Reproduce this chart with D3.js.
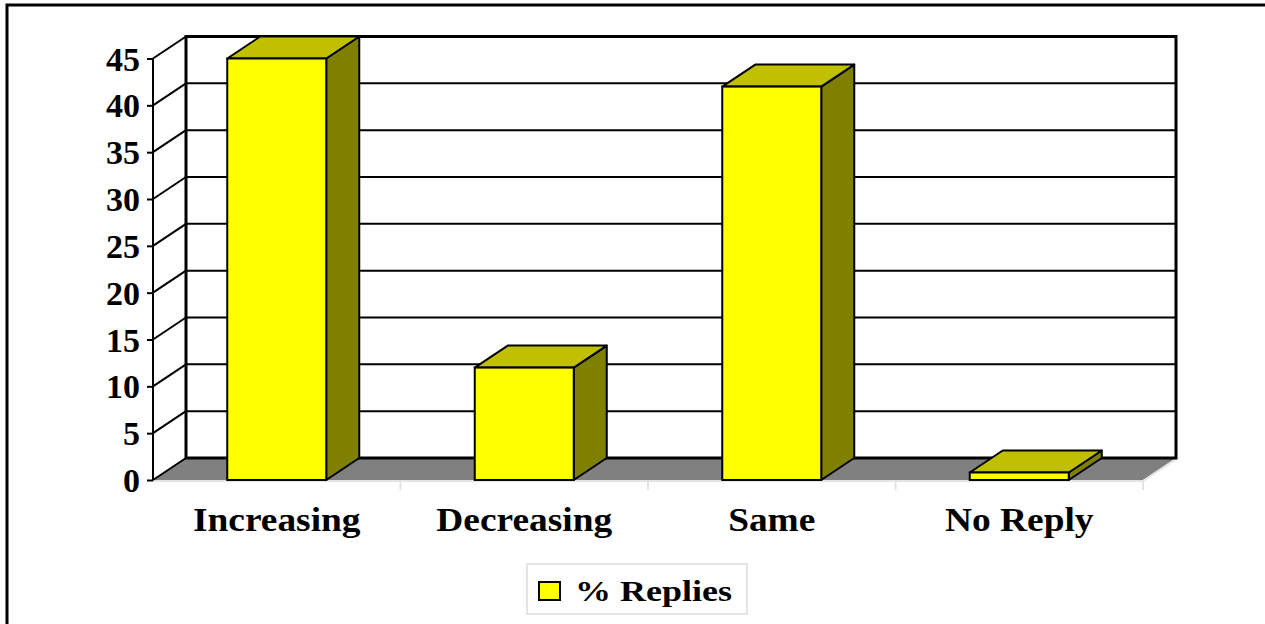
<!DOCTYPE html>
<html>
<head>
<meta charset="utf-8">
<script src="https://cdn.jsdelivr.net/npm/d3@7"></script>
<style>
  html, body { margin: 0; padding: 0; background: #fff; }
  svg { display: block; }
  text { font-family: "Liberation Serif", "Times New Roman", serif; font-weight: bold; fill: #000; }
</style>
</head>
<body>
<svg id="chart" width="1265" height="624"></svg>
<script>
// Survey replies, in percent
const categories = ["Increasing", "Decreasing", "Same", "No Reply"];
const replies = [45, 12, 42, 0.8];
const yTicks = [0, 5, 10, 15, 20, 25, 30, 35, 40, 45];
const seriesName = "% Replies";

const svg = d3.select("#chart");

// front plane of the 3D plot and the depth offset towards the back wall
const front = { left: 153, right: 1143, bottom: 480, top: 58.5 };
const depth = { dx: 33, dy: -22 };

const x = d3.scaleBand()
  .domain(categories)
  .range([front.left, front.right])
  .paddingInner(0.6)
  .paddingOuter(0.3);

const y = d3.scaleLinear()
  .domain([0, 45])
  .range([front.bottom, front.top]);

// outer frame
svg.append("path")
  .attr("d", `M7,624 V5 H1265`)
  .attr("fill", "none")
  .attr("stroke", "#000")
  .attr("stroke-width", 3);

const plot = svg.append("g");

// back wall
const bx0 = front.left + depth.dx, bx1 = front.right + depth.dx;
plot.append("rect")
  .attr("x", bx0).attr("y", y(45) + depth.dy)
  .attr("width", bx1 - bx0).attr("height", y(0) - y(45))
  .attr("fill", "#fff");

// left wall
plot.append("path")
  .attr("d", `M${front.left},${y(0)} L${bx0},${y(0) + depth.dy} L${bx0},${y(45) + depth.dy} L${front.left},${y(45)} Z`)
  .attr("fill", "#fff");

// gridlines on back wall and left wall
plot.selectAll("line.grid")
  .data(yTicks.slice(1, -1))
  .join("line")
  .attr("class", "grid")
  .attr("x1", bx0).attr("x2", bx1)
  .attr("y1", d => y(d) + depth.dy).attr("y2", d => y(d) + depth.dy)
  .attr("stroke", "#000").attr("stroke-width", 2);

plot.selectAll("line.side")
  .data(yTicks.slice(1))
  .join("line")
  .attr("class", "side")
  .attr("x1", front.left).attr("x2", bx0)
  .attr("y1", d => y(d)).attr("y2", d => y(d) + depth.dy)
  .attr("stroke", "#000").attr("stroke-width", 2);

// floor
plot.append("path")
  .attr("d", `M${front.left},${y(0)} L${bx0},${y(0) + depth.dy} L${bx1},${y(0) + depth.dy} L${front.right},${y(0)} Z`)
  .attr("fill", "#808080");
plot.append("path")
  .attr("d", `M${front.left},${y(0) + 1} L${front.right},${y(0) + 1} L${bx1},${y(0) + depth.dy + 1}`)
  .attr("fill", "none").attr("stroke", "#e4e4e4").attr("stroke-width", 2);

// wall outlines
plot.append("rect")
  .attr("x", bx0).attr("y", y(45) + depth.dy)
  .attr("width", bx1 - bx0).attr("height", y(0) - y(45))
  .attr("fill", "none").attr("stroke", "#000").attr("stroke-width", 3);
plot.append("path")
  .attr("d", `M${front.left},${y(0)} L${bx0},${y(0) + depth.dy}`)
  .attr("stroke", "#000").attr("stroke-width", 2);

// category separators under the floor
const seps = categories.map((c, i) => front.left + (i + 1) * x.step());
plot.selectAll("line.sep")
  .data(seps)
  .join("line")
  .attr("class", "sep")
  .attr("x1", d => d).attr("x2", d => d)
  .attr("y1", y(0)).attr("y2", y(0) + 10)
  .attr("stroke", "#e4e4e4").attr("stroke-width", 2);

// y axis on the front-left edge
const yAxis = d3.axisLeft(y).tickValues(yTicks).tickSize(6).tickPadding(7).tickFormat(d3.format("d"));
const yg = plot.append("g")
  .attr("transform", `translate(${front.left},0)`)
  .call(yAxis);
yg.select(".domain").remove();
yg.selectAll(".tick line").attr("stroke", "#000").attr("stroke-width", 2);
yg.selectAll(".tick text")
  .attr("font-size", 34)
  .attr("font-family", "Liberation Serif, Times New Roman, serif")
  .attr("font-weight", "bold")
  .attr("fill", "#000")
  .attr("dy", "0.34em");
plot.append("line")
  .attr("x1", front.left).attr("x2", front.left)
  .attr("y1", y(0)).attr("y2", y(45))
  .attr("stroke", "#000").attr("stroke-width", 2);

// 3D columns
const colors = { front: "#ffff00", top: "#c0c000", side: "#808000" };
const bars = plot.selectAll("g.bar")
  .data(categories.map((c, i) => ({ c, v: replies[i] })))
  .join("g").attr("class", "bar");

bars.append("path")
  .attr("d", d => {
    const x0 = x(d.c), x1 = x0 + x.bandwidth(), yt = y(d.v), yb = y(0);
    return `M${x1},${yt} L${x1 + depth.dx},${yt + depth.dy} L${x1 + depth.dx},${yb + depth.dy} L${x1},${yb} Z`;
  })
  .attr("fill", colors.side).attr("stroke", "#000").attr("stroke-width", 2).attr("stroke-linejoin", "round");

bars.append("path")
  .attr("d", d => {
    const x0 = x(d.c), x1 = x0 + x.bandwidth(), yt = y(d.v);
    return `M${x0},${yt} L${x0 + depth.dx},${yt + depth.dy} L${x1 + depth.dx},${yt + depth.dy} L${x1},${yt} Z`;
  })
  .attr("fill", colors.top).attr("stroke", "#000").attr("stroke-width", 2).attr("stroke-linejoin", "round");

bars.append("rect")
  .attr("x", d => x(d.c)).attr("y", d => y(d.v))
  .attr("width", x.bandwidth()).attr("height", d => y(0) - y(d.v))
  .attr("fill", colors.front).attr("stroke", "#000").attr("stroke-width", 2);

// category labels
const xAxis = d3.axisBottom(x).tickSize(0).tickPadding(0);
const xg = plot.append("g")
  .attr("transform", `translate(0,${y(0)})`)
  .call(xAxis);
xg.select(".domain").remove();
xg.selectAll(".tick text")
  .attr("font-size", 34)
  .attr("font-family", "Liberation Serif, Times New Roman, serif")
  .attr("font-weight", "bold")
  .attr("fill", "#000")
  .attr("y", 51)
  .attr("dy", 0);
// keep labels centred under their bands after the horizontal stretch
xg.selectAll(".tick").each(function (d) {
  const t = d3.select(this);
  const cx = x(d) + x.bandwidth() / 2;
  t.attr("transform", `translate(${cx},0)`);
  t.select("text").attr("transform", "scale(1.1,1)");
});

// legend
const legend = svg.append("g");
legend.append("rect")
  .attr("x", 527).attr("y", 564).attr("width", 220).attr("height", 50)
  .attr("fill", "#fff").attr("stroke", "#e4e4e4").attr("stroke-width", 2);
legend.append("rect")
  .attr("x", 539).attr("y", 582).attr("width", 21).attr("height", 18)
  .attr("fill", colors.front).attr("stroke", "#000").attr("stroke-width", 2);
legend.append("text")
  .attr("transform", "translate(575,601) scale(1.2,1)")
  .attr("font-size", 30)
  .text(seriesName);
</script>
</body>
</html>
